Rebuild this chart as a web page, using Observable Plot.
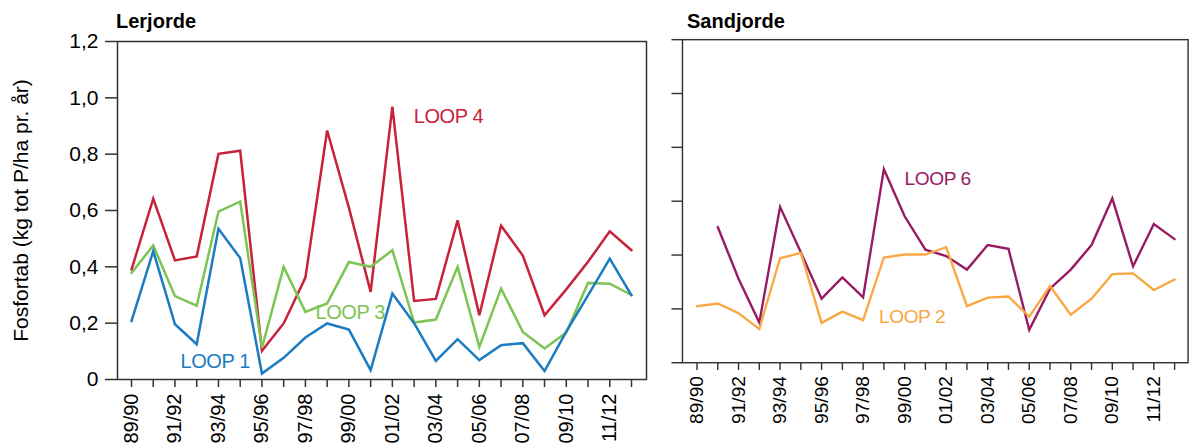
<!DOCTYPE html>
<html>
<head>
<meta charset="utf-8">
<script src="https://cdn.jsdelivr.net/npm/d3@7"></script>
<script src="https://cdn.jsdelivr.net/npm/@observablehq/plot@0.6"></script>
<style>
  html, body { margin: 0; padding: 0; background: #fff; }
  #wrap { position: relative; width: 1201px; height: 448px; overflow: hidden; font-family: "Liberation Sans", Arial, sans-serif; }
  .panel { position: absolute; top: 0; }
  .title { position: absolute; top: 10px; font-weight: bold; font-size: 20px; color: #000; line-height: 23px; }
</style>
</head>
<body>
<div id="wrap">
  <div class="title" style="left:116px">Lerjorde</div>
  <div class="title" style="left:687px">Sandjorde</div>
  <div class="panel" id="left" style="left:0px"></div>
  <div class="panel" id="right" style="left:660px"></div>
</div>
<script>
const seasons = ["89/90","90/91","91/92","92/93","93/94","94/95","95/96","96/97","97/98","98/99","99/00","00/01","01/02","02/03","03/04","04/05","05/06","06/07","07/08","08/09","09/10","10/11","11/12","12/13"];
const yTicks = [0, 0.2, 0.4, 0.6, 0.8, 1.0, 1.2];

// Lerjorde
const loop1 = [0.207,0.456,0.196,0.125,0.535,0.431,0.021,0.077,0.149,0.199,0.177,0.033,0.305,0.200,0.066,0.143,0.069,0.122,0.129,0.030,0.170,0.299,0.429,0.299];
const loop3 = [0.378,0.476,0.296,0.262,0.596,0.632,0.112,0.400,0.240,0.270,0.417,0.400,0.459,0.202,0.213,0.400,0.116,0.323,0.169,0.110,0.167,0.343,0.340,0.300];
const loop4 = [0.390,0.642,0.423,0.437,0.801,0.812,0.102,0.199,0.362,0.884,0.610,0.311,0.969,0.279,0.286,0.565,0.228,0.546,0.440,0.228,0.320,0.418,0.526,0.459];
// Sandjorde
const loop2 = [0.210,0.220,0.184,0.125,0.388,0.408,0.148,0.190,0.158,0.391,0.402,0.402,0.429,0.210,0.242,0.246,0.171,0.285,0.178,0.238,0.329,0.332,0.270,0.309];
const loop6 = [null,0.504,0.312,0.149,0.579,0.410,0.238,0.317,0.243,0.719,0.544,0.420,0.396,0.346,0.437,0.423,0.122,0.275,0.346,0.437,0.610,0.358,0.515,0.459];

const colors = {loop1: "#1b7cc2", loop3: "#7cc453", loop4: "#c8213b", loop2: "#f9a846", loop6: "#971b63"};

// series label positions (season index, value at text baseline)
const leftLabels = [
  {name: "LOOP 4", x: 12.98, y: 0.909, color: colors.loop4},
  {name: "LOOP 3", x: 8.46, y: 0.214, color: colors.loop3},
  {name: "LOOP 1", x: 2.25, y: 0.041, color: colors.loop1}
];
const rightLabels = [
  {name: "LOOP 6", x: 9.99, y: 0.661, color: colors.loop6},
  {name: "LOOP 2", x: 8.76, y: 0.148, color: colors.loop2}
];

const fmt = d => d === 0 ? "0" : d.toFixed(1).replace(".", ",");
const idx = seasons.map((s, i) => i);
const axisColor = "#333";

function panel({series, labels, showY, marginLeft, xDomain, width}) {
  const marks = [
    Plot.frame({stroke: axisColor, strokeWidth: 1.5}),
    Plot.axisY({ticks: yTicks, tickSize: showY ? 12 : 11, tickPadding: 7, strokeWidth: 1.5, stroke: axisColor,
      tickFormat: showY ? fmt : () => "", fontSize: 21, fill: "#000", label: null}),
    Plot.axisX({ticks: idx, tickSize: 8, tickPadding: 6, tickRotate: -90, strokeWidth: 1.5, stroke: axisColor,
      tickFormat: i => i % 2 ? "" : seasons[i], fontSize: 20, fill: "#000", label: null})
  ];
  if (showY) {
    marks.push(Plot.text(["Fosfortab (kg tot P/ha pr. år)"], {
      text: d => d, frameAnchor: "left", rotate: -90, dx: -96, fontSize: 21, fill: "#000",
      textAnchor: "middle", lineAnchor: "middle"
    }));
  }
  for (const s of series) {
    marks.push(Plot.line(idx, {x: i => i, y: i => s.values[i], stroke: s.color, strokeWidth: 2.5,
      strokeLinejoin: "miter", strokeMiterlimit: 4}));
  }
  for (const l of labels) {
    marks.push(Plot.text([l], {x: "x", y: "y", text: "name", fill: l.color, fontSize: 20,
      textAnchor: "start", lineAnchor: "bottom"}));
  }
  const svg = Plot.plot({
    width, height: 448,
    marginLeft, marginRight: 14, marginTop: 41, marginBottom: 69,
    style: {fontFamily: "'Liberation Sans', Arial, sans-serif", fontSize: "20px", background: "transparent", overflow: "visible"},
    x: {type: "linear", domain: xDomain, axis: null},
    y: {domain: [0, 1.2], axis: null},
    marks
  });
  svg.querySelectorAll("text").forEach(t => {
    if (t.textContent.startsWith("LOOP")) t.setAttribute("letter-spacing", "-0.4");
  });
  return svg;
}

document.getElementById("left").append(panel({
  series: [{values: loop4, color: colors.loop4}, {values: loop3, color: colors.loop3}, {values: loop1, color: colors.loop1}],
  labels: leftLabels, showY: true, marginLeft: 117, xDomain: [-0.644, 23.69], width: 660
}));
document.getElementById("right").append(panel({
  series: [{values: loop6, color: colors.loop6}, {values: loop2, color: colors.loop2}],
  labels: rightLabels, showY: false, marginLeft: 23, xDomain: [-0.70, 23.65], width: 566
}));
</script>
</body>
</html>
